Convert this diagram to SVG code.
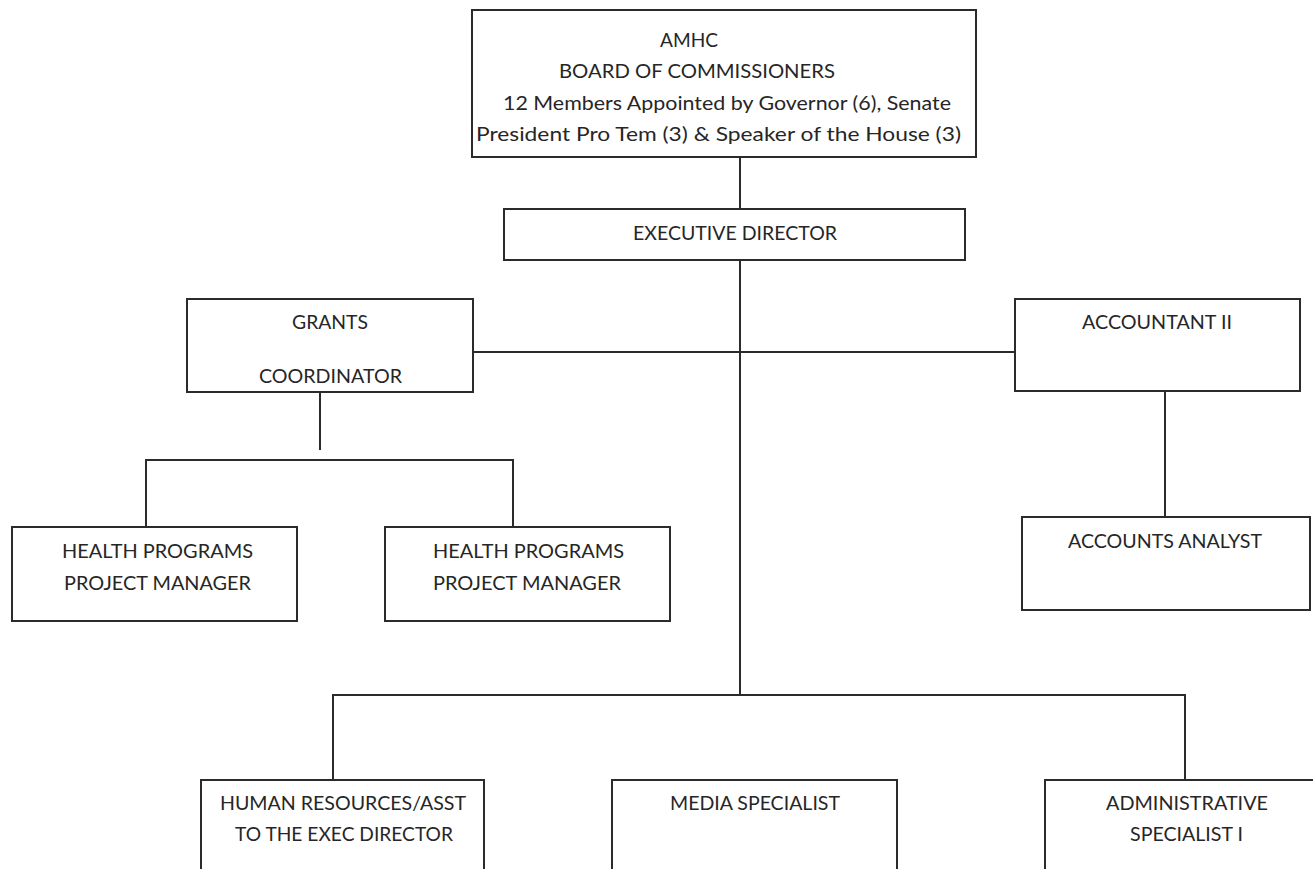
<svg xmlns="http://www.w3.org/2000/svg" width="1313" height="869" viewBox="0 0 1313 869">
<style>
.box{fill:#fff;stroke:#2b2b2b;stroke-width:2}
.ln{fill:none;stroke:#2b2b2b;stroke-width:2}
text{font-family:Lato,"Liberation Sans",sans-serif;font-size:18.5px;fill:#262626}
</style>
<rect width="1313" height="869" fill="#fff"/>
<g id="connectors">
<path class="ln" d="M740 157V209M740 260V695M473 352H1015M320 392V450M146 527V460H513V527M1165 391V517M333 780V695H1185V780"/>
</g>
<g id="board">
<rect class="box" x="472" y="10" width="504" height="147"/>
<text x="660" y="47" textLength="58" lengthAdjust="spacingAndGlyphs">AMHC</text>
<text x="559" y="78" textLength="276" lengthAdjust="spacingAndGlyphs">BOARD OF COMMISSIONERS</text>
<text x="503" y="110" textLength="448" lengthAdjust="spacingAndGlyphs">12 Members Appointed by Governor (6), Senate</text>
<text x="476" y="141" textLength="485" lengthAdjust="spacingAndGlyphs">President Pro Tem (3) &amp; Speaker of the House (3)</text>
</g>
<g id="exec">
<rect class="box" x="504" y="209" width="461" height="51"/>
<text x="633" y="240" textLength="204" lengthAdjust="spacingAndGlyphs">EXECUTIVE DIRECTOR</text>
</g>
<g id="grants">
<rect class="box" x="187" y="299" width="286" height="93"/>
<text x="292" y="329" textLength="76" lengthAdjust="spacingAndGlyphs">GRANTS</text>
<text x="259" y="383" textLength="143" lengthAdjust="spacingAndGlyphs">COORDINATOR</text>
</g>
<g id="accountant">
<rect class="box" x="1015" y="299" width="285" height="92"/>
<text x="1082" y="329" textLength="150" lengthAdjust="spacingAndGlyphs">ACCOUNTANT II</text>
</g>
<g id="health1">
<rect class="box" x="12" y="527" width="285" height="94"/>
<text x="62" y="558" textLength="191" lengthAdjust="spacingAndGlyphs">HEALTH PROGRAMS</text>
<text x="64" y="590" textLength="187" lengthAdjust="spacingAndGlyphs">PROJECT MANAGER</text>
</g>
<g id="health2">
<rect class="box" x="385" y="527" width="285" height="94"/>
<text x="433" y="558" textLength="191" lengthAdjust="spacingAndGlyphs">HEALTH PROGRAMS</text>
<text x="433" y="590" textLength="188" lengthAdjust="spacingAndGlyphs">PROJECT MANAGER</text>
</g>
<g id="analyst">
<rect class="box" x="1022" y="517" width="288" height="93"/>
<text x="1068" y="548" textLength="194" lengthAdjust="spacingAndGlyphs">ACCOUNTS ANALYST</text>
</g>
<g id="hr">
<rect class="box" x="201" y="780" width="283" height="100"/>
<text x="220" y="810" textLength="246" lengthAdjust="spacingAndGlyphs">HUMAN RESOURCES/ASST</text>
<text x="235" y="841" textLength="218" lengthAdjust="spacingAndGlyphs">TO THE EXEC DIRECTOR</text>
</g>
<g id="media">
<rect class="box" x="612" y="780" width="285" height="100"/>
<text x="670" y="810" textLength="170" lengthAdjust="spacingAndGlyphs">MEDIA SPECIALIST</text>
</g>
<g id="admin">
<rect class="box" x="1045" y="780" width="280" height="100"/>
<text x="1106" y="810" textLength="162" lengthAdjust="spacingAndGlyphs">ADMINISTRATIVE</text>
<text x="1130" y="841" textLength="113" lengthAdjust="spacingAndGlyphs">SPECIALIST I</text>
</g>
</svg>
